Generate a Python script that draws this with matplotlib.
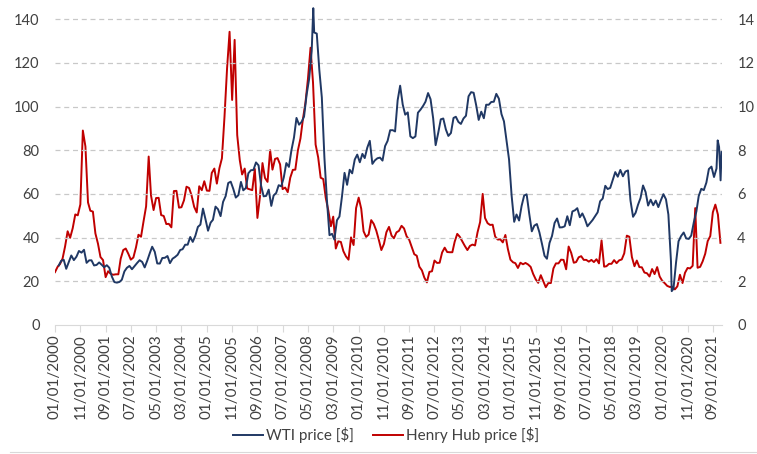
import numpy as np
import pandas as pd
import matplotlib
matplotlib.use("Agg")
import matplotlib.pyplot as plt
import matplotlib.dates as mdates
from matplotlib.lines import Line2D

plt.rcParams['font.family'] = ['Lato', 'DejaVu Sans']

# WTI monthly prices [$] Jan 2000 - Nov 2021
wti_monthly = [
    27.26, 29.37, 29.84, 25.72, 28.79, 31.82, 29.70, 31.26, 33.88, 33.11, 34.42, 28.44,
    29.59, 29.61, 27.25, 27.49, 28.63, 27.60, 26.43, 27.37, 26.20, 22.17, 19.64, 19.39,
    19.72, 20.72, 24.53, 26.18, 27.04, 25.52, 26.97, 28.39, 29.66, 28.84, 26.35, 29.46,
    32.95, 35.83, 33.51, 28.17, 28.11, 30.66, 30.76, 31.57, 28.31, 30.34, 31.11, 32.13,
    34.31, 34.69, 36.74, 36.75, 40.28, 38.03, 40.78, 44.90, 45.94, 53.28, 48.47, 43.15,
    46.84, 48.15, 54.19, 52.98, 49.83, 56.35, 59.00, 64.99, 65.59, 62.26, 58.32, 59.41,
    65.49, 61.63, 62.69, 69.44, 70.84, 70.95, 74.41, 73.04, 63.80, 58.89, 59.08, 61.96,
    54.51, 59.28, 60.44, 63.98, 63.46, 67.49, 74.12, 72.36, 79.92, 85.80, 94.77, 91.69,
    92.97, 95.39, 105.45, 112.58, 125.40, 133.88, 133.37, 116.67, 104.11, 76.61, 57.31, 41.12,
    41.71, 39.09, 47.94, 49.65, 59.03, 69.64, 64.15, 71.05, 69.41, 75.72, 77.99, 74.47,
    78.33, 76.39, 81.20, 84.29, 73.74, 75.34, 76.32, 76.60, 75.24, 81.89, 84.25, 89.15,
    89.17, 88.58, 102.86, 109.53, 100.90, 96.26, 97.30, 86.33, 85.52, 86.32, 97.16, 98.56,
    100.27, 102.20, 106.16, 103.32, 94.66, 82.30, 87.90, 94.13, 94.51, 89.49, 86.53, 87.86,
    94.76, 95.31, 92.94, 92.02, 94.51, 95.77, 104.67, 106.57, 106.29, 100.54, 93.86, 97.63,
    94.62, 100.82, 100.80, 102.07, 102.18, 105.79, 103.59, 96.54, 93.21, 84.40, 75.79, 59.29,
    47.22, 50.58, 47.82, 54.45, 59.27, 59.82, 50.90, 42.87, 45.48, 46.22, 42.44, 37.19,
    31.68, 30.32, 37.55, 40.75, 46.71, 48.76, 44.65, 44.72, 45.18, 49.78, 45.66, 51.97,
    52.50, 53.47, 49.33, 51.06, 48.48, 45.18, 46.63, 48.04, 49.82, 51.58, 56.64, 57.88,
    63.70, 62.23, 62.73, 66.25, 69.98, 67.87, 70.98, 68.06, 70.23, 70.75, 56.96, 49.52,
    51.38, 54.95, 58.15, 63.86, 60.83, 54.66, 57.35, 54.81, 56.95, 53.96, 57.03, 59.88,
    57.52, 50.54, 29.21, 16.55, 28.56, 38.31, 40.71, 42.34, 39.63, 39.40, 40.94, 47.02,
    52.00, 59.04, 62.33, 61.72, 65.17, 71.38, 72.49, 67.73, 71.65, 81.48, 79.15,
]
# weekly extremes visible in the chart
wti_extra_dates = ["2008-07-04", "2020-04-24", "2021-10-29", "2021-12-03"]
wti_extra_values = [145.0, 15.5, 84.5, 66.2]

# Henry Hub monthly prices [$] Jan 2000 - Dec 2021
hh_monthly = [
    2.42, 2.66, 2.79, 3.04, 3.59, 4.29, 3.99, 4.43, 5.06, 5.02, 5.52, 8.90,
    8.17, 5.61, 5.23, 5.19, 4.19, 3.72, 3.11, 2.97, 2.19, 2.46, 2.34, 2.30,
    2.32, 2.32, 3.03, 3.43, 3.50, 3.26, 2.99, 3.09, 3.55, 4.13, 4.04, 4.74,
    5.43, 7.71, 5.93, 5.26, 5.81, 5.82, 5.03, 4.99, 4.62, 4.63, 4.47, 6.13,
    6.14, 5.37, 5.39, 5.71, 6.33, 6.27, 5.93, 5.41, 5.15, 6.35, 6.17, 6.58,
    6.15, 6.14, 6.96, 7.16, 6.47, 7.18, 7.63, 9.53, 11.75, 13.42, 10.30, 13.05,
    8.69, 7.54, 6.89, 7.16, 6.25, 6.21, 6.17, 7.14, 4.90, 5.85, 7.41, 6.73,
    6.55, 8.00, 7.11, 7.60, 7.64, 7.35, 6.22, 6.29, 6.08, 6.74, 7.10, 7.11,
    7.99, 8.54, 9.41, 10.18, 11.27, 12.69, 11.09, 8.26, 7.67, 6.74, 6.68, 5.82,
    5.24, 4.52, 4.96, 3.50, 3.83, 3.80, 3.38, 3.14, 2.99, 4.01, 3.66, 5.35,
    5.83, 5.32, 4.29, 4.03, 4.14, 4.80, 4.63, 4.32, 3.89, 3.43, 3.71, 4.25,
    4.49, 4.09, 3.97, 4.24, 4.31, 4.54, 4.42, 4.06, 3.90, 3.57, 3.24, 3.17,
    2.67, 2.50, 2.17, 1.95, 2.43, 2.46, 2.95, 2.84, 2.85, 3.32, 3.54, 3.34,
    3.33, 3.33, 3.81, 4.17, 4.04, 3.83, 3.62, 3.43, 3.62, 3.68, 3.64, 4.24,
    4.71, 6.00, 4.90, 4.66, 4.58, 4.59, 4.05, 3.91, 3.92, 3.78, 4.12, 3.48,
    2.99, 2.87, 2.83, 2.61, 2.85, 2.78, 2.84, 2.77, 2.66, 2.34, 2.09, 1.93,
    2.28, 1.99, 1.73, 1.92, 1.92, 2.59, 2.82, 2.82, 2.99, 2.98, 2.55, 3.59,
    3.30, 2.85, 2.88, 3.10, 3.15, 2.98, 2.98, 2.90, 2.98, 2.88, 3.01, 2.82,
    3.87, 2.67, 2.69, 2.80, 2.80, 2.97, 2.83, 2.96, 3.00, 3.28, 4.09, 4.04,
    3.11, 2.69, 2.95, 2.65, 2.64, 2.40, 2.37, 2.22, 2.56, 2.33, 2.65, 2.22,
    2.02, 1.91, 1.79, 1.74, 1.75, 1.63, 1.77, 2.30, 1.92, 2.39, 2.61, 2.59,
    2.71, 5.35, 2.62, 2.66, 2.91, 3.26, 3.84, 4.07, 5.16, 5.51, 5.05, 3.76,
]

left_ticks = [0, 20, 40, 60, 80, 100, 120, 140]
right_ticks = [0, 2, 4, 6, 8, 10, 12, 14]
x_tick_dates = pd.date_range("2000-01-01", "2021-12-31", freq="10MS")

wti = pd.Series(wti_monthly,
                index=pd.date_range("2000-01-15", periods=len(wti_monthly), freq="MS") + pd.Timedelta(days=14))
wti = pd.concat([wti, pd.Series(wti_extra_values, index=pd.to_datetime(wti_extra_dates))]).sort_index()
hh = pd.Series(hh_monthly, index=pd.date_range("2000-01-01", periods=len(hh_monthly), freq="MS"))

W, H = 757, 454
fig = plt.figure(figsize=(W / 100, H / 100), dpi=100)
ax = fig.add_axes([55 / W, 1 - 325 / H, (722 - 55) / W, (325 - 6) / H])
ax2 = ax.twinx()

blue = "#203864"
red = "#C00000"
ax.plot(wti.index, wti.values, color=blue, lw=1.4, zorder=3)
ax2.plot(hh.index, hh.values, color=red, lw=1.4, zorder=3)

ymax = 146
ax.set_ylim(0, ymax)
ax2.set_ylim(0, ymax / 10)
ax.set_yticks(left_ticks)
ax2.set_yticks(right_ticks)
ax.set_xlim(pd.Timestamp("2000-01-01"), pd.Timestamp("2021-12-20"))
ax.set_xticks(x_tick_dates)
ax.xaxis.set_major_formatter(mdates.DateFormatter("%m/%d/%Y"))

for a in (ax, ax2):
    for s in a.spines.values():
        s.set_visible(False)
ax.spines['bottom'].set_visible(True)
ax.spines['bottom'].set_color("#D9D9D9")
ax.yaxis.grid(True, color="#C8C8C8", linestyle=(0, (4, 3)), lw=0.9)
for t in ax.yaxis.get_gridlines()[:1]:
    t.set_visible(False)
ax.set_axisbelow(True)

tc = "#404040"
ax.tick_params(axis='y', length=0, labelsize=10.5, labelcolor=tc, pad=11)
ax2.tick_params(axis='y', length=0, labelsize=10.5, labelcolor=tc, pad=11)
ax.tick_params(axis='x', length=5, color="#D9D9D9", labelsize=11, labelcolor=tc,
               labelrotation=90, pad=2)

ax.set_zorder(ax2.get_zorder() + 1)
ax.patch.set_visible(False)

handles = [Line2D([], [], color=blue, lw=1.4), Line2D([], [], color=red, lw=1.4)]
fig.legend(handles, ["WTI price [$]", "Henry Hub price [$]"], loc="center",
           bbox_to_anchor=(0.51, 1 - 435 / H), ncol=2, frameon=False, fontsize=11,
           handlelength=2.0, handletextpad=0.2, columnspacing=1.2, labelcolor=tc)

fig.add_artist(Line2D([10 / W, 1], [1 - 452 / H] * 2, color="#D9D9D9", lw=0.8))

fig.savefig("out.png", dpi=100)
